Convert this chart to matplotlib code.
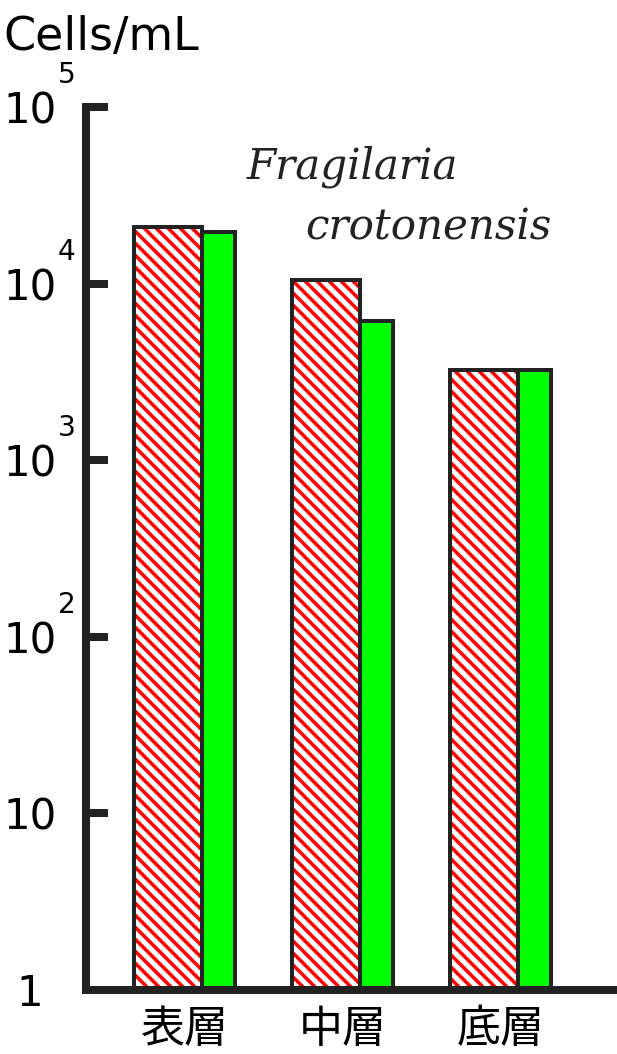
import matplotlib.pyplot as plt
import matplotlib.ticker as ticker
import numpy as np

categories = ["表層", "中層", "底層"]
red_values = [20800, 10500, 3240]
green_values = [19700, 6150, 3240]
tick_values = [1, 10, 100, 1000, 10000, 100000]
tick_labels = ["1", "10", "10", "10", "10", "10"]
tick_exponents = ["", "", "2", "3", "4", "5"]

plt.rcParams['hatch.linewidth'] = 3.5
dark = "#222222"

# dpi 72 so that points == pixels
fig = plt.figure(figsize=(617 / 72, 1054 / 72), dpi=72)
ax = fig.add_axes([86 / 617, 64 / 1054, 1 - 86 / 617, (990 - 107) / 1054])

x = np.arange(len(categories))
red_w = 0.43
green_w = 0.209

ax.bar(x, np.array(red_values) - 1, width=red_w, bottom=1, align='edge',
       color="white", edgecolor="red", linewidth=0, hatch="\\\\")
ax.bar(x, np.array(red_values) - 1, width=red_w, bottom=1, align='edge',
       fill=False, edgecolor=dark, linewidth=4)
ax.bar(x + red_w, np.array(green_values) - 1, width=green_w, bottom=1, align='edge',
       color="#00ff00", edgecolor=dark, linewidth=4)

ax.set_yscale('log')
ax.set_ylim(1, 1e5)
ax.set_xlim(-0.304, 3.057)
ax.set_yticks(tick_values)
ax.yaxis.set_major_formatter(ticker.FixedFormatter(tick_labels))
ax.yaxis.set_minor_locator(ticker.NullLocator())
ax.tick_params(axis='y', direction='in', length=22, width=8, color=dark,
               labelsize=42, pad=56)
for lab in ax.get_yticklabels():
    lab.set_horizontalalignment('center')
for v, e in zip(tick_values, tick_exponents):
    if e:
        ax.annotate(e, xy=(0, v), xycoords=('axes fraction', 'data'),
                    xytext=(-19, 32), textcoords='offset points',
                    ha='center', va='center', fontsize=28)

ax.set_xticks(x + (red_w + green_w) / 2)
ax.set_xticklabels(categories, family=['Noto Sans CJK JP', 'DejaVu Sans'], fontsize=44)
ax.tick_params(axis='x', length=0, pad=16)

for s in ['top', 'right']:
    ax.spines[s].set_visible(False)
ax.spines['left'].set_linewidth(8)
ax.spines['left'].set_color(dark)
ax.spines['bottom'].set_linewidth(8)
ax.spines['bottom'].set_color(dark)

fig.text(3 / 617, 1 - 50 / 1054, "Cells/mL", fontsize=46, va='baseline', ha='left')
fig.text(247 / 617, 1 - 178 / 1054, "Fragilaria", family='DejaVu Serif',
         style='italic', fontsize=42, va='baseline', color="#222222")
fig.text(305 / 617, 1 - 240 / 1054, "crotonensis", family='DejaVu Serif',
         style='italic', fontsize=42, va='baseline', color="#222222")

plt.savefig('out.png', dpi=72)
